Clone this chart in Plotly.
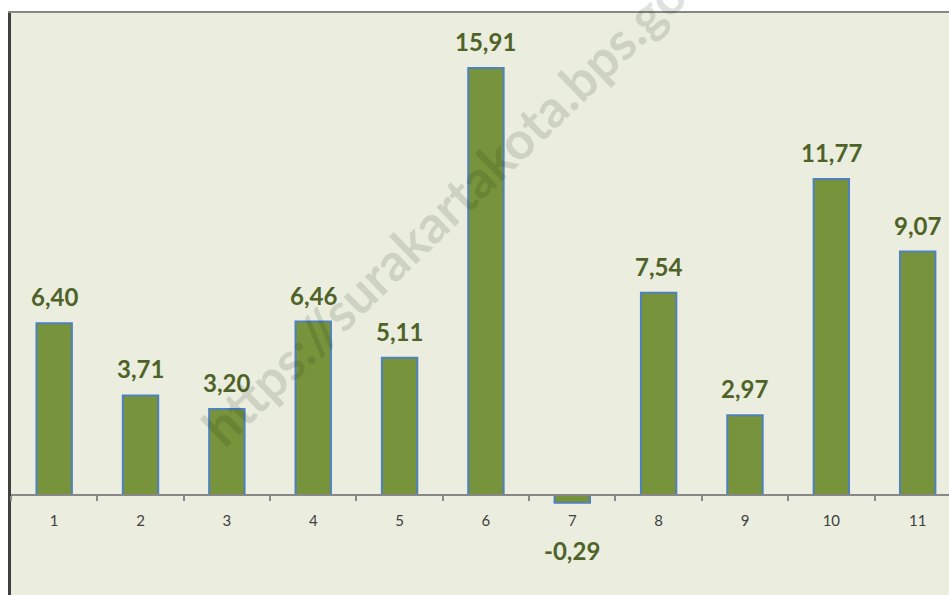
import plotly.graph_objects as go

categories = ["1", "2", "3", "4", "5", "6", "7", "8", "9", "10", "11"]
values = [6.40, 3.71, 3.20, 6.46, 5.11, 15.91, -0.29, 7.54, 2.97, 11.77, 9.07]
value_labels = ["6,40", "3,71", "3,20", "6,46", "5,11", "15,91", "-0,29", "7,54", "2,97", "11,77", "9,07"]
watermark = "https://surakartakota.bps.go.id"

W, H = 949, 595
ML, MT = 11, 13
plot_w = W - ML
plot_h = H - MT
cat_px = 86.35
zero_px = 495
px_per_unit = 26.84

x_range = [-0.5, -0.5 + plot_w / cat_px]
y_top = (zero_px - MT) / px_per_unit
y_bot = -(H - zero_px) / px_per_unit

fig = go.Figure()
fig.add_trace(go.Bar(
    x=categories, y=values, width=0.41,
    marker=dict(color="#77933C", line=dict(color="#4F81BD", width=2)),
    hoverinfo="skip",
))

label_font = dict(family="Lato", size=24, color="#4F6228")
annotations = []
for i, (v, t) in enumerate(zip(values, value_labels)):
    if v >= 0:
        annotations.append(dict(x=i, y=v, text="<b>%s</b>" % t, showarrow=False,
                                xanchor="center", yanchor="bottom", yshift=10, font=label_font))
    else:
        annotations.append(dict(x=i, y=v, text="<b>%s</b>" % t, showarrow=False,
                                xanchor="center", yanchor="top", yshift=-31, font=label_font))

wx, wy = 463, 191
annotations.append(dict(
    xref="paper", yref="paper",
    x=(wx - ML) / plot_w, y=(H - wy) / plot_h,
    xanchor="center", yanchor="middle",
    text="<b>%s</b>" % watermark, showarrow=False, textangle=-44,
    font=dict(family="Lato", size=52, color="rgba(30,40,20,0.14)"),
))

fig.update_layout(
    width=W, height=H,
    margin=dict(l=ML, r=0, t=MT, b=0, pad=0),
    paper_bgcolor="white",
    plot_bgcolor="#EBEEDF",
    showlegend=False,
    hovermode=False,
    annotations=annotations,
    xaxis=dict(
        type="category", range=x_range, anchor="free",
        position=(H - zero_px) / plot_h,
        showline=True, linecolor="#888888", linewidth=2,
        ticks="outside", tickson="boundaries", ticklen=5, tickwidth=2, tickcolor="#888888",
        ticklabelstandoff=12,
        tickfont=dict(family="Lato", size=15, color="#404040"),
        showgrid=False, zeroline=False, fixedrange=True,
    ),
    yaxis=dict(
        range=[y_bot, y_top], showticklabels=False, showgrid=False, zeroline=False,
        showline=True, linecolor="#404040", linewidth=3, ticks="",
        fixedrange=True,
    ),
    shapes=[dict(type="line", xref="paper", yref="paper",
                 x0=-3 / plot_w, x1=1, y0=1 + 1 / plot_h, y1=1 + 1 / plot_h,
                 line=dict(color="#878787", width=2))],
)

fig.write_html(
    "out.html",
    config={"displayModeBar": False, "staticPlot": True},
    post_script="document.body.style.margin='0';document.body.style.padding='0';"
                "document.body.style.overflow='hidden';",
)
